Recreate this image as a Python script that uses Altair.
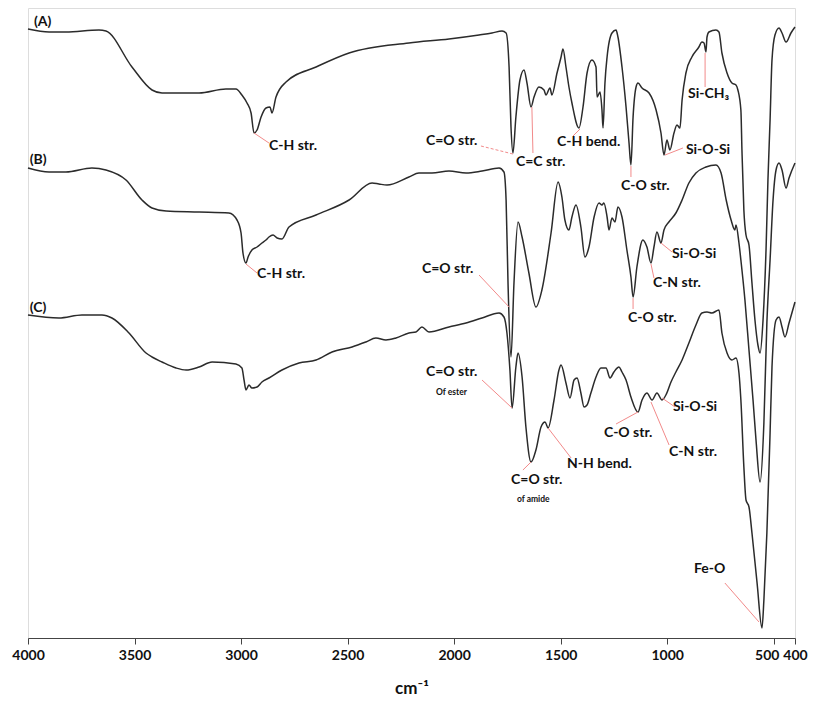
import altair as alt
import pandas as pd

# ---- spectra (wavenumber cm-1, relative transmittance a.u.) ----
wn_A = [4000, 3901, 3822, 3667, 3634, 3512, 3418, 3371, 3197, 3071, 3024, 2996, 2972, 2953, 2939, 2925, 2906, 2883, 2864, 2855, 2836, 2789, 2648, 2493, 2212, 2024, 1883, 1822, 1775, 1756, 1742, 1733, 1724, 1710, 1691, 1672, 1658, 1639, 1625, 1602, 1578, 1569, 1550, 1541, 1517, 1498, 1489, 1475, 1461, 1447, 1414, 1395, 1376, 1353, 1334, 1329, 1315, 1306, 1301, 1292, 1282, 1259, 1240, 1231, 1212, 1193, 1179, 1170, 1160, 1146, 1137, 1118, 1085, 1052, 1029, 1015, 1001, 987, 968, 954, 940, 930, 912, 884, 851, 837, 827, 818, 813, 804, 771, 757, 743, 719, 696, 677, 668, 654, 649, 640, 630, 616, 602, 588, 574, 564, 550, 536, 527, 517, 508, 494, 475, 461, 442, 419, 400]
val_A = [609, 606, 606, 608, 607, 571, 548, 545, 545, 549, 549, 543, 535, 525, 505, 508, 521, 530, 531, 525, 541, 556, 571, 585, 595, 599, 603, 605, 607, 605, 571, 511, 485, 521, 558, 568, 555, 531, 541, 551, 548, 543, 550, 543, 565, 581, 589, 571, 551, 535, 510, 531, 565, 578, 571, 541, 546, 528, 510, 555, 581, 605, 608, 601, 571, 531, 495, 473, 521, 551, 555, 550, 545, 528, 505, 483, 498, 488, 505, 513, 510, 538, 565, 581, 591, 596, 595, 586, 601, 606, 608, 606, 585, 565, 555, 553, 548, 528, 488, 428, 403, 393, 355, 318, 293, 285, 318, 388, 458, 518, 578, 603, 610, 605, 596, 605, 611]

wn_B = [4000, 3901, 3822, 3700, 3634, 3540, 3465, 3418, 3352, 3197, 3057, 3019, 3000, 2991, 2977, 2967, 2949, 2925, 2902, 2883, 2869, 2850, 2831, 2808, 2775, 2648, 2493, 2385, 2353, 2315, 2212, 2165, 2104, 2024, 1944, 1869, 1789, 1766, 1756, 1747, 1733, 1719, 1700, 1681, 1649, 1616, 1588, 1545, 1512, 1494, 1480, 1461, 1447, 1428, 1405, 1386, 1367, 1343, 1320, 1306, 1297, 1282, 1273, 1259, 1245, 1231, 1212, 1189, 1170, 1160, 1142, 1114, 1095, 1076, 1062, 1048, 1029, 1015, 992, 959, 930, 898, 865, 818, 771, 747, 723, 700, 682, 677, 663, 654, 635, 616, 597, 583, 564, 546, 532, 517, 503, 489, 475, 461, 442, 428, 400]
val_B = [470, 466, 466, 470, 468, 458, 438, 430, 427, 426, 425, 418, 405, 385, 375, 381, 388, 391, 395, 398, 401, 403, 400, 399, 411, 423, 438, 455, 454, 453, 461, 465, 465, 467, 465, 467, 470, 466, 438, 355, 281, 355, 416, 401, 365, 331, 348, 405, 456, 441, 418, 408, 421, 433, 411, 381, 391, 421, 435, 433, 435, 421, 408, 420, 416, 431, 421, 388, 361, 341, 371, 398, 391, 375, 391, 406, 395, 408, 416, 425, 438, 455, 465, 471, 473, 465, 438, 418, 408, 413, 395, 378, 338, 288, 238, 198, 156, 215, 315, 378, 438, 468, 475, 468, 450, 460, 475]

wn_C = [4000, 3855, 3747, 3653, 3606, 3526, 3446, 3418, 3371, 3305, 3258, 3197, 3136, 3024, 2996, 2986, 2977, 2963, 2949, 2925, 2902, 2869, 2808, 2728, 2648, 2573, 2479, 2414, 2367, 2320, 2273, 2212, 2179, 2151, 2118, 2024, 1944, 1869, 1789, 1766, 1752, 1738, 1728, 1710, 1700, 1681, 1663, 1639, 1616, 1592, 1573, 1559, 1531, 1508, 1498, 1475, 1456, 1437, 1423, 1405, 1390, 1376, 1358, 1334, 1311, 1287, 1268, 1250, 1226, 1212, 1193, 1170, 1137, 1118, 1095, 1071, 1048, 1024, 1006, 982, 959, 930, 898, 865, 837, 813, 790, 757, 743, 719, 696, 677, 663, 654, 640, 630, 616, 602, 578, 555, 546, 532, 517, 508, 489, 475, 461, 447, 428, 400]
val_C = [323, 320, 323, 323, 320, 305, 285, 281, 276, 270, 268, 271, 276, 274, 270, 258, 248, 253, 250, 251, 256, 260, 268, 275, 278, 286, 291, 296, 300, 298, 300, 305, 306, 311, 306, 311, 315, 320, 325, 321, 305, 268, 230, 271, 285, 261, 211, 176, 188, 211, 216, 210, 238, 268, 273, 255, 240, 258, 260, 245, 231, 233, 245, 261, 270, 270, 260, 266, 271, 266, 258, 241, 226, 238, 245, 238, 245, 238, 243, 256, 266, 278, 295, 313, 325, 326, 325, 328, 305, 285, 278, 280, 265, 238, 171, 138, 131, 105, 55, 10, 38, 105, 205, 271, 318, 321, 311, 301, 315, 336]

# ---- annotations ----
lab_text = ["(A)", "C-H str.", "C=O str.", "C=C str.", "C-H bend.", "C-O str.", "Si-O-Si", "Si-CH\u2083",
            "(B)", "C-H str.", "C=O str.", "C-O str.", "C-N str.", "Si-O-Si",
            "(C)", "C=O str.", "C=O str.", "N-H bend.", "C-O str.", "C-N str.", "Si-O-Si", "Fe-O"]
lab_wn = [3972, 2869, 2132, 1710, 1517, 1217, 912, 902,
          3992, 2925, 2151, 1184, 1067, 977,
          3992, 2132, 1733, 1470, 1297, 991, 973, 874]
lab_val = [616, 492, 497, 476, 496, 452, 488, 544,
           478, 364, 369, 320, 355, 384,
           330, 266, 158, 174, 205, 186, 231, 69]

small_text = ["Of ester", "of amide"]
small_wn = [2085, 1705]
small_val = [246, 139]

lead_wn1 = [2939, 1635, 1409, 1170, 1010, 822, 2977, 1883, 1160, 1076, 1029, 1869, 1639, 1559, 1137, 1076, 1024, 729]
lead_v1 = [505, 531, 509, 472, 483, 585, 374, 363, 340, 374, 395, 258, 176, 210, 226, 236, 240, 55]
lead_wn2 = [2869, 1630, 1442, 1170, 926, 822, 2925, 1742, 1160, 1062, 977, 1728, 1677, 1451, 1240, 991, 963, 569]
lead_v2 = [495, 485, 502, 461, 490, 551, 365, 331, 329, 360, 386, 230, 168, 180, 214, 193, 231, 16]
dash_wn = [1874, 1724]
dash_v = [492, 484]

ticks = [4000, 3500, 3000, 2500, 2000, 1500, 1000, 500, 400]

rows = []
for name, w, v in (("A", wn_A, val_A), ("B", wn_B, val_B), ("C", wn_C, val_C)):
    for i, (a, b) in enumerate(zip(w, v)):
        rows.append({"s": name, "i": i, "wn": a, "t": b})
spec = pd.DataFrame(rows)

FONT = "Lato"
xs = alt.Scale(domain=[4000, 400], nice=False, zero=False)
ys = alt.Scale(domain=[0, 630], nice=False, zero=False)

label_shift = {"condition": {"test": "datum.value == 500", "value": -7}, "value": 0}

lines = alt.Chart(spec).mark_line(strokeWidth=1.5, color="#2b2b2b", interpolate="monotone").encode(
    x=alt.X("wn:Q", scale=xs, axis=alt.Axis(values=ticks, format="d", title="cm\u207b\u00b9", grid=False,
                                            domainColor="#444", tickColor="#444", tickSize=6,
                                            labelFont=FONT, labelFontSize=14, labelFontWeight="bold",
                                            labelColor="#111", labelPadding=4, labelFlush=False,
                                            labelOverlap=False, labelOffset=label_shift,
                                            titleFont=FONT, titleFontSize=17, titleFontWeight="bold",
                                            titleColor="#111", titlePadding=18)),
    y=alt.Y("t:Q", scale=ys, axis=None),
    detail="s:N",
    order="i:Q",
)

leads = alt.Chart(pd.DataFrame({"x1": lead_wn1, "y1": lead_v1, "x2": lead_wn2, "y2": lead_v2})).mark_rule(
    color="#f28a8a", strokeWidth=1).encode(
    x=alt.X("x1:Q", scale=xs), x2="x2:Q", y=alt.Y("y1:Q", scale=ys), y2="y2:Q")

dashed = alt.Chart(pd.DataFrame({"x1": [dash_wn[0]], "y1": [dash_v[0]], "x2": [dash_wn[1]], "y2": [dash_v[1]]})).mark_rule(
    color="#f28a8a", strokeWidth=1, strokeDash=[3, 2]).encode(
    x=alt.X("x1:Q", scale=xs), x2="x2:Q", y=alt.Y("y1:Q", scale=ys), y2="y2:Q")

labels = alt.Chart(pd.DataFrame({"t": lab_text, "x": lab_wn, "y": lab_val})).mark_text(
    align="left", baseline="middle", font=FONT, fontSize=14, fontWeight="bold", color="#111").encode(
    x=alt.X("x:Q", scale=xs), y=alt.Y("y:Q", scale=ys), text="t:N")

small = alt.Chart(pd.DataFrame({"t": small_text, "x": small_wn, "y": small_val})).mark_text(
    align="left", baseline="middle", font=FONT, fontSize=8.5, fontWeight="bold", color="#111").encode(
    x=alt.X("x:Q", scale=xs), y=alt.Y("y:Q", scale=ys), text="t:N")

chart = alt.layer(lines, leads, dashed, labels, small).properties(
    width=767, height=630,
    autosize=alt.AutoSizeParams(type="none"),
    padding={"left": 20, "top": 0, "right": 13, "bottom": 60},
).configure_view(stroke=None).configure(background="white")

chart.save("out.html", embed_options={"renderer": "svg", "actions": False})
